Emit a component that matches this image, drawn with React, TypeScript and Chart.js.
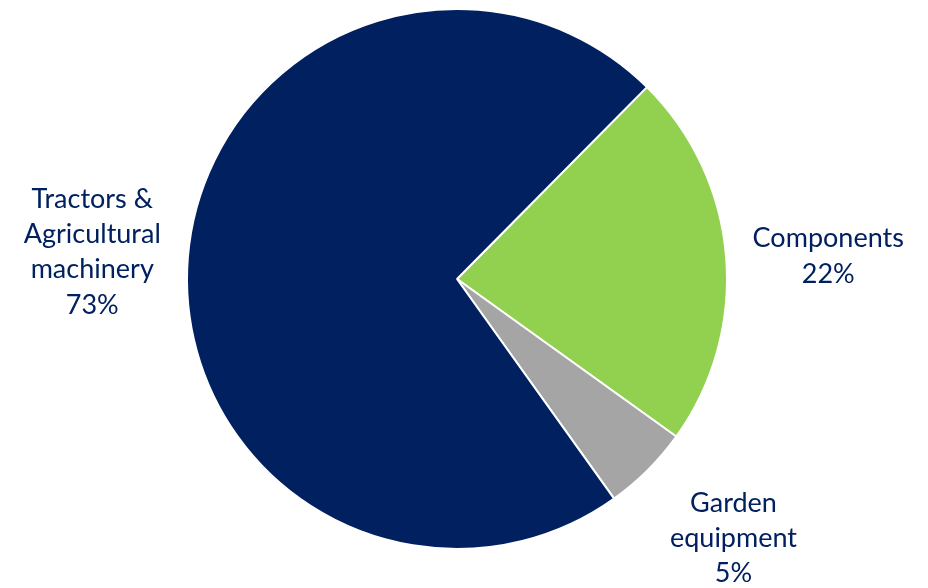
import React, { useEffect, useRef } from "react";
import { Chart, registerables } from "chart.js";

Chart.register(...registerables);

const categories = ["Components", "Garden equipment", "Tractors & Agricultural machinery"];
const shares = [22.5, 5.2, 72.3];
const percentLabels = ["22%", "5%", "73%"];
const labelLines = [["Components"], ["Garden", "equipment"], ["Tractors &", "Agricultural", "machinery"]];
const colors = ["#92D050", "#A5A5A5", "#002060"];

// label anchor offsets relative to pie centre, in units of radius
const labelOffsets = [
  [1.375, -0.052],
  [1.024, 0.992],
  [-1.351, -0.068],
];

const labelPlugin = {
  id: "sliceLabels",
  afterDraw(chart: any) {
    const ctx = chart.ctx;
    const meta = chart.getDatasetMeta(0);
    const arc = meta.data[0];
    const cx = arc.x;
    const cy = arc.y;
    const r = arc.outerRadius;
    const lh = 35.3;
    ctx.save();
    ctx.fillStyle = "#002060";
    ctx.font = "27px Lato";
    ctx.textAlign = "center";
    ctx.textBaseline = "alphabetic";
    labelLines.forEach((lines, i) => {
      const all = [...lines, percentLabels[i]];
      const x = cx + labelOffsets[i][0] * r;
      const midY = cy + labelOffsets[i][1] * r;
      const first = midY - ((all.length - 1) * lh) / 2;
      all.forEach((t, j) => ctx.fillText(t, x, first + j * lh));
    });
    ctx.restore();
  },
};

export default function App() {
  const ref = useRef<HTMLCanvasElement>(null);
  useEffect(() => {
    const chart = new Chart(ref.current!, {
      type: "pie",
      data: {
        labels: categories,
        datasets: [
          {
            data: shares,
            backgroundColor: colors,
            borderColor: "#ffffff",
            borderWidth: 2,
          },
        ],
      },
      options: {
        animation: false,
        responsive: false,
        rotation: 44.7,
        layout: { padding: { top: 8, bottom: 38, left: 100, right: 114 } },
        plugins: { legend: { display: false }, tooltip: { enabled: false } },
      },
      plugins: [labelPlugin],
    });
    return () => chart.destroy();
  }, []);
  return (
    <div style={{ position: "fixed", left: 0, top: 0, width: 928, height: 588, background: "#fff" }}>
      <canvas ref={ref} width={928} height={588} style={{ width: 928, height: 588 }} />
    </div>
  );
}
